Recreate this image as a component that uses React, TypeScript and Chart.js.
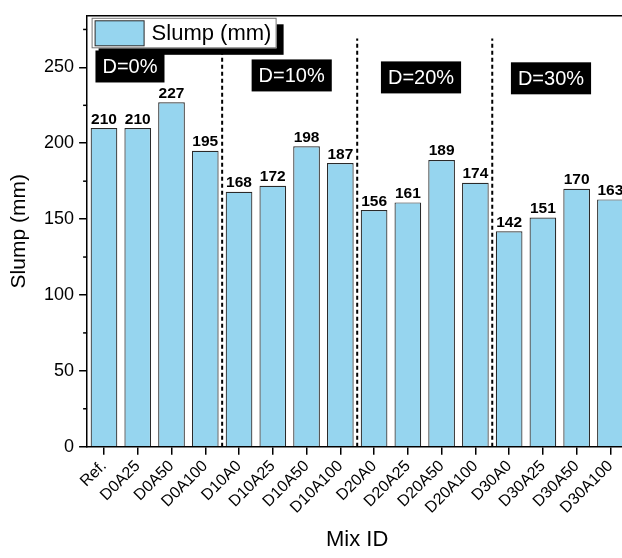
import React, { useEffect, useRef } from "react";
import { Chart, registerables } from "chart.js";

Chart.register(...registerables);

const categories = [
  "Ref.", "D0A25", "D0A50", "D0A100",
  "D10A0", "D10A25", "D10A50", "D10A100",
  "D20A0", "D20A25", "D20A50", "D20A100",
  "D30A0", "D30A25", "D30A50", "D30A100",
];
const slump = [210, 210, 227, 195, 168, 172, 198, 187, 156, 161, 189, 174, 142, 151, 170, 163];
const yTicks = [0, 50, 100, 150, 200, 250];
const minorTicks = [25, 75, 125, 175, 225, 275];
const groupLabels = ["D=0%", "D=10%", "D=20%", "D=30%"];
const groupBoundaries = [3.5, 7.5, 11.5];

const FONT = "'Liberation Sans', Arial, sans-serif";
const BAR_FILL = "#96D5EF";
const BAR_EDGE = "#2a2a2a";

const decorPlugin = {
  id: "decor",
  afterDatasetsDraw(chart: any) {
    const { ctx, chartArea, scales } = chart;
    const x = scales.x;
    const y = scales.y;
    ctx.save();
    // value labels
    ctx.font = `bold 15.5px ${FONT}`;
    ctx.fillStyle = "#000";
    ctx.textAlign = "center";
    ctx.textBaseline = "bottom";
    const meta = chart.getDatasetMeta(0);
    meta.data.forEach((bar: any, i: number) => {
      ctx.fillText(String(slump[i]), bar.x, bar.y - 1);
    });
    // dashed separators
    ctx.strokeStyle = "#000";
    ctx.lineWidth = 2;
    ctx.setLineDash([4, 3]);
    groupBoundaries.forEach((b) => {
      const px = x.getPixelForValue(b);
      ctx.beginPath();
      ctx.moveTo(px, y.getPixelForValue(0));
      ctx.lineTo(px, y.getPixelForValue(269));
      ctx.stroke();
    });
    ctx.setLineDash([]);
    // group labels (black boxes)
    const anchors = [
      [0.77, 250.6],
      [5.56, 244.7],
      [9.39, 243.4],
      [13.24, 242.8],
    ];
    ctx.font = `20px ${FONT}`;
    ctx.textBaseline = "middle";
    groupLabels.forEach((t, i) => {
      const cx = x.getPixelForValue(anchors[i][0]);
      const cy = y.getPixelForValue(anchors[i][1]);
      const w = ctx.measureText(t).width + 14;
      const h = 32;
      ctx.fillStyle = "#000";
      ctx.fillRect(cx - w / 2, cy - h / 2, w, h);
      ctx.fillStyle = "#fff";
      ctx.textAlign = "center";
      ctx.fillText(t, cx, cy + 1);
    });
    // frame top/right
    ctx.strokeStyle = "#000";
    ctx.lineWidth = 1.5;
    ctx.beginPath();
    ctx.moveTo(chartArea.left, chartArea.top);
    ctx.lineTo(chartArea.right, chartArea.top);
    ctx.lineTo(chartArea.right, chartArea.bottom);
    ctx.stroke();
    // minor y ticks
    ctx.lineWidth = 1.5;
    minorTicks.forEach((v) => {
      const py = y.getPixelForValue(v);
      ctx.beginPath();
      ctx.moveTo(chartArea.left, py);
      ctx.lineTo(chartArea.left - 4, py);
      ctx.stroke();
    });
    // legend
    const lx = chartArea.left + 4.5;
    const ly = chartArea.top + 2;
    const lw = 185;
    const lh = 30.5;
    ctx.fillStyle = "#000";
    ctx.fillRect(lx + 7, ly + 6.5, lw, lh);
    ctx.fillStyle = "#fff";
    ctx.fillRect(lx, ly, lw, lh);
    ctx.strokeStyle = "#777";
    ctx.lineWidth = 1;
    ctx.strokeRect(lx + 0.5, ly + 0.5, lw - 1, lh - 1);
    ctx.fillStyle = BAR_FILL;
    ctx.fillRect(lx + 3.5, ly + 3, 49, 25);
    ctx.strokeStyle = BAR_EDGE;
    ctx.strokeRect(lx + 3.5, ly + 3, 49, 25);
    ctx.fillStyle = "#000";
    ctx.font = `22px ${FONT}`;
    ctx.textAlign = "left";
    ctx.textBaseline = "middle";
    ctx.fillText("Slump (mm)", lx + 60, ly + lh / 2 + 1);
    ctx.restore();
  },
};

export default function App() {
  const ref = useRef<HTMLCanvasElement>(null);
  useEffect(() => {
    if (!ref.current) return;
    const chart = new Chart(ref.current, {
      type: "bar",
      data: {
        labels: categories,
        datasets: [
          {
            label: "Slump (mm)",
            data: slump,
            backgroundColor: BAR_FILL,
            borderColor: BAR_EDGE,
            borderWidth: 1.2,
            barPercentage: 0.79,
            categoryPercentage: 1,
          },
        ],
      },
      options: {
        responsive: false,
        animation: false,
        layout: { padding: { top: 13, right: 12.7, left: 0, bottom: 0 } },
        plugins: { legend: { display: false }, tooltip: { enabled: false } },
        scales: {
          x: {
            afterFit: (s: any) => {
              s.height = 111.3;
            },
            grid: {
              offset: false,
              drawOnChartArea: false,
              drawTicks: true,
              tickLength: 8,
              color: "#000",
              lineWidth: 1.5,
            },
            border: { display: true, color: "#000", width: 1.5 },
            ticks: {
              autoSkip: false,
              maxRotation: 45,
              minRotation: 45,
              padding: 2,
              color: "#000",
              font: { family: FONT, size: 16 },
            },
            title: {
              display: true,
              text: "Mix ID",
              color: "#000",
              font: { family: FONT, size: 22 },
              padding: { top: 4, bottom: 5 },
            },
          },
          y: {
            min: 0,
            max: 284,
            afterFit: (s: any) => {
              s.width = 87.1;
            },
            afterBuildTicks: (s: any) => {
              s.ticks = yTicks.map((v) => ({ value: v }));
            },
            grid: {
              drawOnChartArea: false,
              drawTicks: true,
              tickLength: 8,
              color: "#000",
              lineWidth: 1.5,
            },
            border: { display: true, color: "#000", width: 1.5 },
            ticks: {
              padding: 5,
              color: "#000",
              font: { family: FONT, size: 18 },
            },
            title: {
              display: true,
              text: "Slump (mm)",
              color: "#000",
              font: { family: FONT, size: 21 },
              padding: { top: 7, bottom: 4 },
            },
          },
        },
      },
      plugins: [decorPlugin],
    });
    return () => chart.destroy();
  }, []);
  return (
    <div
      style={{
        position: "fixed",
        left: 0,
        top: 0,
        width: 622,
        height: 558,
        overflow: "hidden",
        background: "#fff",
      }}
    >
      <canvas ref={ref} width={640} height={558} style={{ display: "block" }} />
    </div>
  );
}
